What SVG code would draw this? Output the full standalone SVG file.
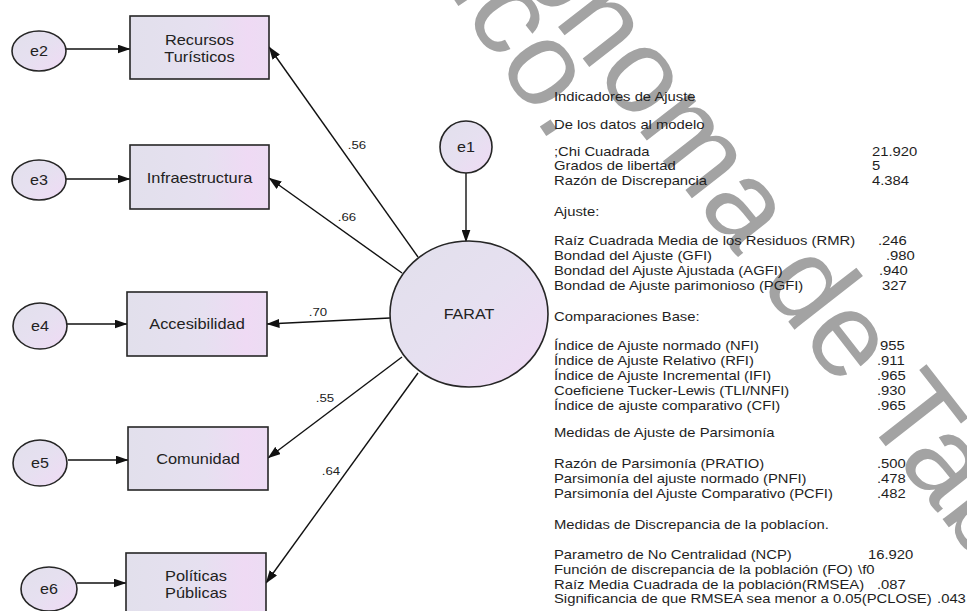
<svg xmlns="http://www.w3.org/2000/svg" width="967" height="611" viewBox="0 0 967 611">
<defs>
<linearGradient id="g" x1="0" y1="0" x2="1" y2="0">
<stop offset="0" stop-color="#e2e0ec"/><stop offset="0.55" stop-color="#e6e0f0"/><stop offset="0.85" stop-color="#efdaf4"/><stop offset="1" stop-color="#ecdcf3"/>
</linearGradient>
<linearGradient id="gc" x1="0" y1="0" x2="1" y2="1">
<stop offset="0" stop-color="#e2e0ec"/><stop offset="0.5" stop-color="#e6e0f0"/><stop offset="1" stop-color="#f0daf5"/>
</linearGradient>
<marker id="ah" markerUnits="userSpaceOnUse" markerWidth="13" markerHeight="9" refX="12.5" refY="4.5" orient="auto">
<path d="M0,0 L13,4.5 L0,9 z" fill="#111"/>
</marker>
<style>
.box{fill:url(#g);stroke:#262626;stroke-width:1.6}
.ell{fill:url(#gc);stroke:#262626;stroke-width:1.6}
.lbl{font-family:"Liberation Sans",Arial,sans-serif;font-size:14px;fill:#222;text-anchor:middle}
.wt{font-family:"Liberation Sans",Arial,sans-serif;font-size:11.5px;fill:#222;text-anchor:middle}
.con{stroke:#111;stroke-width:1.4;fill:none;marker-end:url(#ah)}
.tx{font-family:"Liberation Sans",Arial,sans-serif;font-size:13px;fill:#1e1e1e}
.wm{font-family:"Liberation Sans",Arial,sans-serif;font-size:120px;fill:#a3a3a3;stroke:#fff;stroke-width:3;paint-order:stroke}
</style>
</defs>
<rect width="967" height="611" fill="#fff"/>
<g id="watermark">
<text class="wm" transform="translate(448 -9.6) rotate(56)">ico.</text>
<text class="wm" transform="translate(401 -174) rotate(52)">Autónoma de Tab</text>
</g>
<g id="connectors">
<line class="con" x1="66" y1="49" x2="130" y2="49"/>
<line class="con" x1="66" y1="179" x2="130" y2="179"/>
<line class="con" x1="67" y1="324" x2="127" y2="324"/>
<line class="con" x1="68" y1="460" x2="128" y2="460"/>
<line class="con" x1="77" y1="583" x2="126" y2="583"/>
<line class="con" x1="466" y1="173" x2="466" y2="242"/>
<line class="con" x1="418" y1="257" x2="269" y2="47"/>
<line class="con" x1="402" y1="273" x2="269" y2="178"/>
<line class="con" x1="390" y1="318" x2="267" y2="324"/>
<line class="con" x1="402" y1="357" x2="268" y2="458"/>
<line class="con" x1="418" y1="373" x2="266" y2="583"/>
<text class="wt" transform="translate(357 149) scale(1.15 1)">.56</text>
<text class="wt" transform="translate(347 221) scale(1.15 1)">.66</text>
<text class="wt" transform="translate(318 316) scale(1.15 1)">.70</text>
<text class="wt" transform="translate(325 402) scale(1.15 1)">.55</text>
<text class="wt" transform="translate(331 475) scale(1.15 1)">.64</text>
</g>
<g id="e2"><ellipse class="ell" cx="39" cy="51" rx="27" ry="20"/><text class="lbl" transform="translate(39 56) scale(1.15 1)">e2</text></g>
<g id="e3"><ellipse class="ell" cx="39" cy="180" rx="27" ry="20"/><text class="lbl" transform="translate(39 185) scale(1.15 1)">e3</text></g>
<g id="e4"><ellipse class="ell" cx="40" cy="326" rx="27" ry="23"/><text class="lbl" transform="translate(40 331) scale(1.15 1)">e4</text></g>
<g id="e5"><ellipse class="ell" cx="40" cy="463" rx="27" ry="23"/><text class="lbl" transform="translate(40 468) scale(1.15 1)">e5</text></g>
<g id="e6"><ellipse class="ell" cx="49" cy="589" rx="28" ry="22"/><text class="lbl" transform="translate(49 594) scale(1.15 1)">e6</text></g>
<g id="e1"><ellipse class="ell" cx="466" cy="147" rx="26" ry="26"/><text class="lbl" transform="translate(466 152) scale(1.15 1)">e1</text></g>
<g id="farat"><ellipse class="ell" cx="469" cy="314" rx="79" ry="73"/><text class="lbl" transform="translate(469 319) scale(1.15 1)">FARAT</text></g>
<g id="recursos"><rect class="box" x="130" y="16" width="139" height="63"/><text class="lbl" transform="translate(199.5 45) scale(1.17 1)">Recursos</text><text class="lbl" transform="translate(199.5 62) scale(1.17 1)">Turísticos</text></g>
<g id="infraestructura"><rect class="box" x="130" y="145" width="139" height="64"/><text class="lbl" transform="translate(199.5 183) scale(1.17 1)">Infraestructura</text></g>
<g id="accesibilidad"><rect class="box" x="127" y="292" width="140" height="64"/><text class="lbl" transform="translate(197 329) scale(1.17 1)">Accesibilidad</text></g>
<g id="comunidad"><rect class="box" x="128" y="427" width="140" height="63"/><text class="lbl" transform="translate(198 464) scale(1.17 1)">Comunidad</text></g>
<g id="politicas"><rect class="box" x="126" y="553" width="140" height="63"/><text class="lbl" transform="translate(196 581) scale(1.17 1)">Políticas</text><text class="lbl" transform="translate(196 598) scale(1.17 1)">Públicas</text></g>
<g id="indicadores" transform="matrix(1.14 0 0 1 554 0)">
<text class="tx" x="0" y="101.5">Indicadores de Ajuste</text>
<text class="tx" x="0" y="129.5">De los datos al modelo</text>
<text class="tx" x="0" y="156.5">;Chi Cuadrada</text><text class="tx" x="278.9" y="156.5">21.920</text>
<text class="tx" x="0" y="170.5">Grados de libertad</text><text class="tx" x="278.9" y="170.5">5</text>
<text class="tx" x="0" y="185.5">Razón de Discrepancia</text><text class="tx" x="278.9" y="185.5">4.384</text>
<text class="tx" x="0" y="216.5">Ajuste:</text>
<text class="tx" x="0" y="245.5">Raíz Cuadrada Media de los Residuos (RMR)</text><text class="tx" x="284.2" y="245.5">.246</text>
<text class="tx" x="0" y="260.5">Bondad del Ajuste (GFI)</text><text class="tx" x="291.2" y="260.5">.980</text>
<text class="tx" x="0" y="275.5">Bondad del Ajuste Ajustada (AGFI)</text><text class="tx" x="285.1" y="275.5">.940</text>
<text class="tx" x="0" y="290.5">Bondad de Ajuste parimonioso (PGFI)</text><text class="tx" x="287.7" y="290.5">327</text>
<text class="tx" x="0" y="321.5">Comparaciones Base:</text>
<text class="tx" x="0" y="350.5">Índice de Ajuste normado (NFI)</text><text class="tx" x="286" y="350.5">955</text>
<text class="tx" x="0" y="365.5">Índice de Ajuste Relativo (RFI)</text><text class="tx" x="283.3" y="365.5">.911</text>
<text class="tx" x="0" y="380.5">Índice de Ajuste Incremental (IFI)</text><text class="tx" x="283.3" y="380.5">.965</text>
<text class="tx" x="0" y="395.5">Coeficiene Tucker-Lewis (TLI/NNFI)</text><text class="tx" x="283.3" y="395.5">.930</text>
<text class="tx" x="0" y="410.5">Índice de ajuste comparativo (CFI)</text><text class="tx" x="283.3" y="410.5">.965</text>
<text class="tx" x="0" y="437.5">Medidas de Ajuste de Parsimonía</text>
<text class="tx" x="0" y="468.5">Razón de Parsimonía (PRATIO)</text><text class="tx" x="283.3" y="468.5">.500</text>
<text class="tx" x="0" y="483.5">Parsimonía del ajuste normado (PNFI)</text><text class="tx" x="283.3" y="483.5">.478</text>
<text class="tx" x="0" y="498.5">Parsimonía del Ajuste Comparativo (PCFI)</text><text class="tx" x="283.3" y="498.5">.482</text>
<text class="tx" x="0" y="529.5">Medidas de Discrepancia de la poblacíon.</text>
<text class="tx" x="0" y="559.5">Parametro de No Centralidad (NCP)</text><text class="tx" x="275.4" y="559.5">16.920</text>
<text class="tx" x="0" y="574.5">Función de discrepancia de la población (FO)</text><text class="tx" x="266.7" y="574.5">\f0</text>
<text class="tx" x="0" y="589.5">Raíz Media Cuadrada de la población(RMSEA)</text><text class="tx" x="283.3" y="589.5">.087</text>
<text class="tx" x="0" y="603.5">Significancia de que RMSEA sea menor a 0.05(PCLOSE)</text><text class="tx" x="336" y="603.5">.043</text>
</g>
</svg>
